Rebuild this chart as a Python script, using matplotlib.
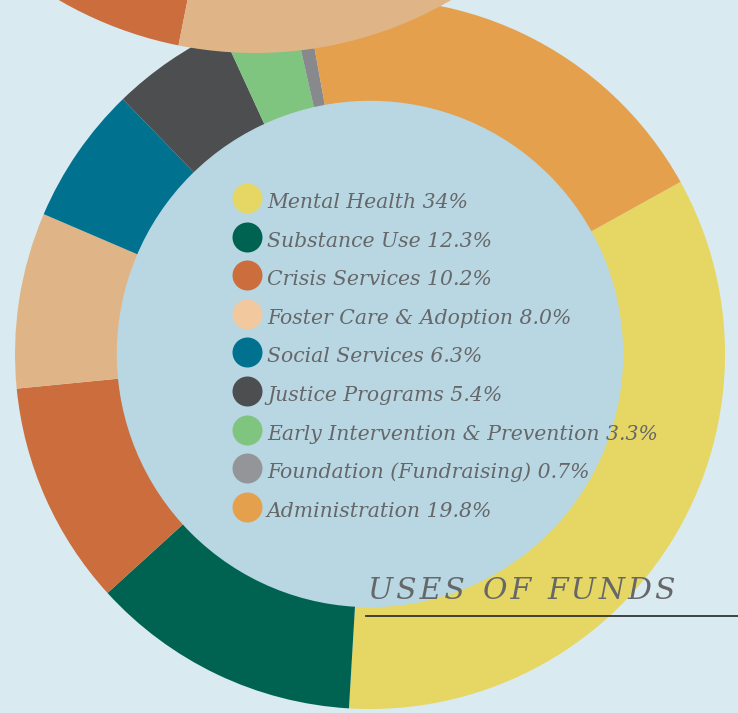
import matplotlib
matplotlib.use("Agg")
import matplotlib.pyplot as plt

# uses of funds (percent)
labels = ["Mental Health", "Substance Use", "Crisis Services", "Foster Care & Adoption",
          "Social Services", "Justice Programs", "Early Intervention & Prevention",
          "Foundation (Fundraising)", "Administration"]
pct_text = ["34%", "12.3%", "10.2%", "8.0%", "6.3%", "5.4%", "3.3%", "0.7%", "19.8%"]
values = [34, 12.3, 10.2, 8.0, 6.3, 5.4, 3.3, 0.7, 19.8]
ring_colors = ["#e6d664", "#006352", "#cc6d3d", "#dfb587", "#00718f",
               "#4d4e50", "#7fc47f", "#88898d", "#e4a04d"]
legend_colors = ["#e6d664", "#006352", "#cc6d3d", "#f2c99e", "#00718f",
                 "#4d4e50", "#7fc47f", "#939598", "#e4a04d"]

# the neighbouring chart above (only two slices show), as fractions of a circle
upper_fracs = [0.163, 0.171]
upper_colors = ["#cc6d3d", "#dfb587"]

title_words = ["USES", "OF", "FUNDS"]

bg = "#d9eaf1"
hole = "#b8d7e3"
txt = "#666769"

W, H = 738, 713
fig = plt.figure(figsize=(W / 100, H / 100), dpi=100)
fig.patch.set_facecolor(bg)
ax = fig.add_axes([0, 0, 1, 1])

cx, cy = 370, H - 354
r_out, r_in = 355, 252

ax.pie(values, colors=ring_colors, startangle=29, counterclock=False,
       radius=r_out, center=(cx, cy), frame=True,
       wedgeprops=dict(width=r_out - r_in, linewidth=0))
ax.add_patch(plt.Circle((cx, cy), r_in + 0.5, color=hole, zorder=2))

# partial ring of the chart above
ax.pie(upper_fracs, colors=upper_colors, startangle=-160, counterclock=True,
       normalize=False, radius=390, center=(255, H + 337), frame=True,
       wedgeprops=dict(width=120, linewidth=0))

ax.set_xlim(0, W)
ax.set_ylim(0, H)
ax.set_aspect("equal")
ax.axis("off")

# legend
for i, (lab, p, c) in enumerate(zip(labels, pct_text, legend_colors)):
    y = H - (198 + i * 38.6)
    ax.scatter([247], [y], s=(30 * 0.72) ** 2, color=c, zorder=5, linewidths=0)
    ax.text(267, y - 10, f"{lab} {p}", fontsize=14.7, family="DejaVu Serif",
            style="italic", color=txt, va="baseline", ha="left", zorder=6)

# spaced-out title, one word at a time
for word, x0 in zip(title_words, [368, 483, 547]):
    ax.text(x0, H - 599, "\u200a".join(word), fontsize=21.5, family="DejaVu Serif",
            style="italic", color=txt, va="baseline", ha="left", zorder=6)
ax.plot([366, W], [H - 616, H - 616], color="#333333", lw=1.3, zorder=6)

fig.savefig("out.png", dpi=100, facecolor=bg)
